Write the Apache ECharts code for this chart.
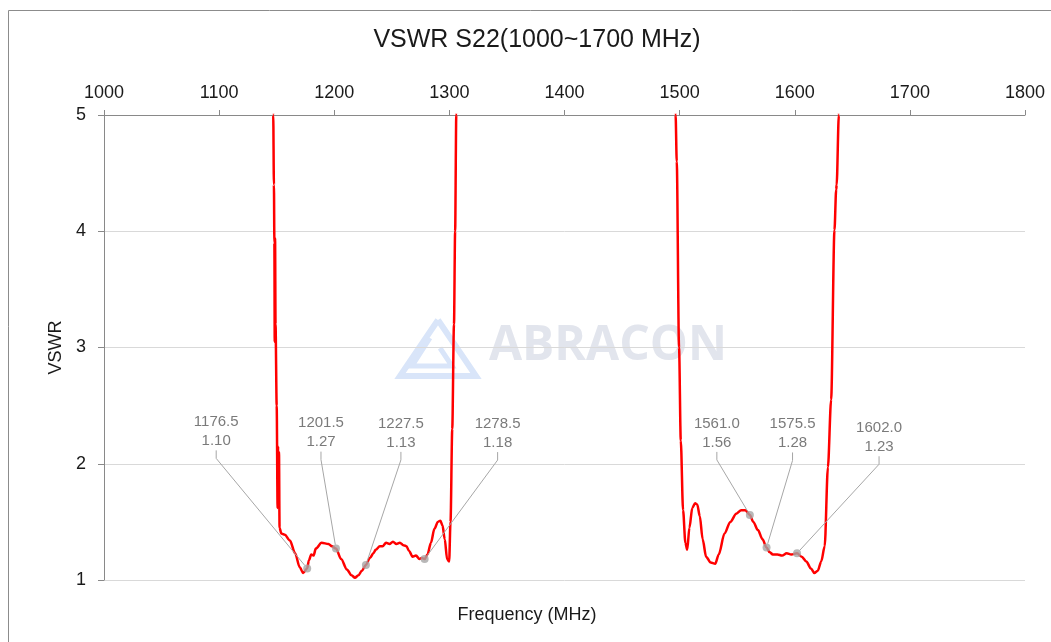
<!DOCTYPE html>
<html>
<head>
<meta charset="utf-8">
<script src="https://cdn.jsdelivr.net/npm/echarts@6/dist/echarts.min.js"></script>
<style>
    html, body { margin: 0; padding: 0; background: #fff; }
    #vswrChart { width: 1051px; height: 642px; }
</style>
</head>
<body>
<div id="vswrChart"></div>
<script>
    var freq = [
        1146.0, 1147.0, 1147.6, 1148.0, 1148.3, 1148.6, 1149.0, 1150.0, 1150.8, 1151.2,
        1151.6, 1152.0, 1152.5, 1154.0, 1157.0, 1161.5, 1166.0, 1170.0, 1173.0, 1176.5,
        1178.0, 1180.0, 1182.0, 1184.0, 1189.0, 1195.0, 1198.0, 1201.5, 1206.0, 1211.0,
        1215.0, 1218.0, 1221.0, 1224.0, 1227.5, 1231.0, 1234.0, 1236.0, 1239.6, 1242.0,
        1245.0, 1248.0, 1251.0, 1254.0, 1257.0, 1260.0, 1262.7, 1265.0, 1268.0, 1271.0,
        1274.0, 1276.0, 1278.5, 1281.0, 1284.0, 1287.0, 1290.0, 1292.2, 1294.0, 1296.0,
        1298.0, 1299.8, 1301.0, 1302.5, 1304.0, 1305.0, 1306.0, 1307.0,
        1495.5, 1496.5, 1497.5, 1499.5, 1501.0, 1503.0, 1505.0, 1506.6, 1508.5, 1511.0,
        1513.5, 1515.3, 1517.5, 1520.0, 1523.0, 1527.0, 1530.9, 1534.0, 1539.0, 1544.0,
        1549.2, 1553.5, 1557.0, 1561.0, 1564.0, 1568.0, 1572.0, 1575.5, 1578.0, 1581.0,
        1585.0, 1589.0, 1593.0, 1597.0, 1602.0, 1606.0, 1610.0, 1614.0, 1617.0, 1620.0,
        1623.0, 1626.0, 1628.8, 1631.6, 1634.5, 1636.0, 1636.4, 1638.3, 1639.0
    ]
    var vswr = [
        5.60, 5.00, 4.40, 3.90, 3.05, 3.94, 3.20, 2.50, 1.62, 2.15,
        1.62, 2.10, 1.45, 1.40, 1.39, 1.34, 1.23, 1.11, 1.06, 1.10,
        1.17, 1.22, 1.21, 1.27, 1.32, 1.31, 1.29, 1.27, 1.18, 1.09,
        1.04, 1.02, 1.04, 1.08, 1.13, 1.19, 1.23, 1.26, 1.29, 1.29,
        1.32, 1.31, 1.33, 1.31, 1.32, 1.30, 1.29, 1.25, 1.20, 1.21,
        1.18, 1.19, 1.18, 1.22, 1.32, 1.44, 1.50, 1.51, 1.47, 1.35,
        1.18, 1.16, 1.50, 2.30, 3.20, 4.00, 5.00, 5.60,
        5.60, 5.00, 4.60, 3.00, 2.20, 1.60, 1.32, 1.26, 1.45, 1.62,
        1.66, 1.65, 1.55, 1.35, 1.20, 1.15, 1.14, 1.22, 1.40, 1.50,
        1.57, 1.60, 1.60, 1.56, 1.50, 1.43, 1.35, 1.28, 1.24, 1.22,
        1.22, 1.21, 1.23, 1.22, 1.23, 1.20, 1.16, 1.10, 1.06, 1.08,
        1.16, 1.29, 1.97, 2.55, 4.01, 4.36, 4.40, 5.00, 5.60
    ]

    // annotated markers
    var markerFreq = [1176.5, 1201.5, 1227.5, 1278.5, 1561.0, 1575.5, 1602.0]
    var markerVswr = [1.10, 1.27, 1.13, 1.18, 1.56, 1.28, 1.23]

    // label offsets from each marker, px
    var labelOffsets = [[-91, -137], [-15, -116], [35, -132], [73, -126], [-33, -82], [26, -114], [82, -116]]

    var freqTicks = { min: 1000, max: 1800, interval: 100 }
    var vswrTicks = { min: 1, max: 5, interval: 1 }

    var curve = freq.map(function (f, i) { return [f, vswr[i]] })
    var markers = markerFreq.map(function (f, i) { return [f, markerVswr[i]] })

    var myChart = echarts.init(document.getElementById('vswrChart'))
    var fontFamily = '"Liberation Sans", Arial, sans-serif'

    var option = {
        animation: false,
        textStyle: { fontFamily: fontFamily },
        title: [
            {
                text: 'VSWR S22(1000~1700 MHz)',
                left: 537,
                top: 28,
                padding: 0,
                textAlign: 'center',
                textStyle: { fontSize: 25, fontWeight: 'normal', color: '#1a1a1a', fontFamily: fontFamily }
            },
            {
                text: 'Frequency (MHz)',
                left: 527,
                top: 606,
                padding: 0,
                textAlign: 'center',
                textStyle: { fontSize: 18, fontWeight: 'normal', color: '#1a1a1a', fontFamily: fontFamily }
            }
        ],
        graphic: [
            {
                type: 'rect',
                z: -10,
                shape: { x: 8.5, y: 10.5, width: 1100, height: 700 },
                style: { fill: 'none', stroke: '#8c8c8c', lineWidth: 1 }
            },
            {
                type: 'polyline',
                z: -5,
                shape: { points: [[438, 320], [400, 376], [476, 376], [438, 320]] },
                style: { fill: 'none', stroke: '#d9e5f9', lineWidth: 6 }
            },
            {
                type: 'polyline',
                z: -5,
                shape: { points: [[430, 338], [412, 366], [452, 366], [440, 348]] },
                style: { fill: 'none', stroke: '#d9e5f9', lineWidth: 5 }
            },
            {
                type: 'text',
                z: -5,
                left: 489,
                top: 322,
                style: {
                    text: 'ABRACON',
                    fill: '#e2e5ed',
                    font: 'bold 48px "Open Sans", "Liberation Sans", sans-serif'
                }
            }
        ],
        grid: {
            left: 104,
            right: 26,
            top: 115,
            bottom: 62
        },
        xAxis: {
            type: 'value',
            position: 'top',
            min: freqTicks.min,
            max: freqTicks.max,
            interval: freqTicks.interval,
            axisLine: { show: true, lineStyle: { color: '#898989', width: 1 } },
            axisTick: { show: true, length: 5, lineStyle: { color: '#898989' } },
            axisLabel: {
                fontSize: 18,
                color: '#1a1a1a',
                margin: 13,
                formatter: function (v) { return String(v) }
            },
            splitLine: { show: false }
        },
        yAxis: {
            type: 'value',
            min: vswrTicks.min,
            max: vswrTicks.max,
            interval: vswrTicks.interval,
            name: 'VSWR',
            nameLocation: 'middle',
            nameGap: 30,
            nameTextStyle: { fontSize: 18, color: '#1a1a1a' },
            axisLine: { show: true, lineStyle: { color: '#898989', width: 1 } },
            axisTick: { show: true, length: 6, lineStyle: { color: '#898989' } },
            axisLabel: { fontSize: 18, color: '#1a1a1a', margin: 18 },
            splitLine: { show: true, lineStyle: { color: '#d9d9d9', width: 1 } }
        },
        series: [
            {
                name: 'S22',
                type: 'line',
                data: curve,
                showSymbol: false,
                clip: true,
                smooth: 0.3,
                smoothMonotone: 'x',
                lineStyle: { color: '#ff0000', width: 2.5 },
                z: 2
            },
            {
                name: 'markers',
                type: 'scatter',
                data: markers,
                symbolSize: 8,
                itemStyle: { color: '#a6a6a6' },
                z: 3,
                label: {
                    show: true,
                    position: 'inside',
                    fontSize: 15,
                    lineHeight: 19,
                    color: '#595959',
                    formatter: function (p) {
                        return p.value[0].toFixed(1) + '\n' + p.value[1].toFixed(2)
                    }
                },
                labelLine: {
                    show: true,
                    length2: 8,
                    lineStyle: { color: '#a6a6a6', width: 1 }
                },
                labelLayout: function (params) {
                    var off = labelOffsets[params.dataIndex]
                    return { dx: off[0], dy: off[1] }
                }
            }
        ]
    }
    myChart.setOption(option)
</script>
</body>
</html>
